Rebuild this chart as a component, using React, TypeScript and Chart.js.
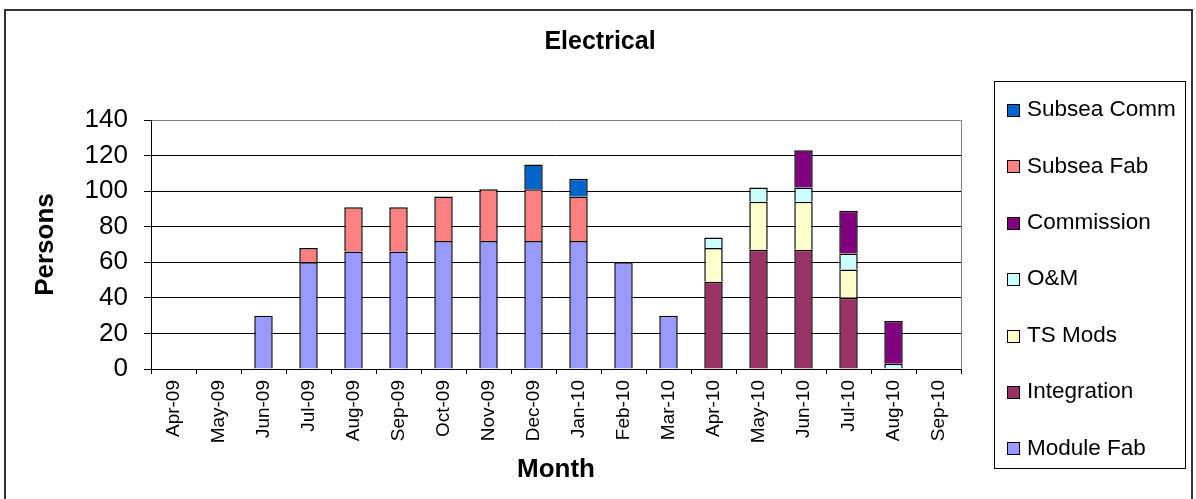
import { useEffect, useRef } from "react";
import { Chart, registerables } from "chart.js";

Chart.register(...registerables);

const FONT = "'Liberation Sans', Arial, Helvetica, sans-serif";

const chartTitle = "Electrical";
const xTitle = "Month";
const yTitle = "Persons";

const months = [
  "Apr-09", "May-09", "Jun-09", "Jul-09", "Aug-09", "Sep-09",
  "Oct-09", "Nov-09", "Dec-09", "Jan-10", "Feb-10", "Mar-10",
  "Apr-10", "May-10", "Jun-10", "Jul-10", "Aug-10", "Sep-10",
];

// Head count per month for each work package (stacked bottom to top)
const moduleFab = [0, 0, 30, 60, 66, 66, 72, 72, 72, 72, 60, 30, 0, 0, 0, 0, 0, 0];
const integration = [0, 0, 0, 0, 0, 0, 0, 0, 0, 0, 0, 0, 49, 67, 67, 40, 0, 0];
const tsMods = [0, 0, 0, 0, 0, 0, 0, 0, 0, 0, 0, 0, 19, 27, 27, 16, 0, 0];
const oAndM = [0, 0, 0, 0, 0, 0, 0, 0, 0, 0, 0, 0, 6, 8, 8, 9, 3, 0];
const commission = [0, 0, 0, 0, 0, 0, 0, 0, 0, 0, 0, 0, 0, 0, 21, 24, 24, 0];
const subseaFab = [0, 0, 0, 8, 25, 25, 25, 29, 29, 25, 0, 0, 0, 0, 0, 0, 0, 0];
const subseaComm = [0, 0, 0, 0, 0, 0, 0, 0, 14, 10, 0, 0, 0, 0, 0, 0, 0, 0];

const seriesNames = ["Module Fab", "Integration", "TS Mods", "O&M", "Commission", "Subsea Fab", "Subsea Comm"];
const seriesColors = ["#9999FF", "#993366", "#FFFFCC", "#CCFFFF", "#800080", "#FF8080", "#0066CC"];
const seriesValues = [moduleFab, integration, tsMods, oAndM, commission, subseaFab, subseaComm];

const yMax = 140;
const yStep = 20;

// Draws the title, the boxed legend on the right, the plot frame and the outer border
const decorations = {
  id: "decorations",
  afterDraw(chart: any) {
    const { ctx, chartArea } = chart;
    ctx.save();

    // plot area right edge
    ctx.strokeStyle = "#808080";
    ctx.lineWidth = 1;
    const rx = Math.round(chartArea.right) + 0.5;
    ctx.beginPath();
    ctx.moveTo(rx, Math.round(chartArea.top));
    ctx.lineTo(rx, Math.round(chartArea.bottom));
    ctx.stroke();

    // chart title
    ctx.fillStyle = "#000";
    ctx.font = `bold 25px ${FONT}`;
    ctx.textAlign = "center";
    ctx.textBaseline = "middle";
    ctx.fillText(chartTitle, 600, 42);

    // legend frame
    ctx.strokeStyle = "#000";
    ctx.lineWidth = 1;
    ctx.strokeRect(994.5, 81.5, 191, 387);

    // legend entries, top entry is the top of the stack
    const sets = chart.data.datasets.slice().reverse();
    ctx.font = `22.5px ${FONT}`;
    ctx.textAlign = "left";
    ctx.textBaseline = "middle";
    sets.forEach((ds: any, i: number) => {
      const cy = 110 + i * 56.4;
      const top = Math.round(cy - 6) + 0.5;
      ctx.fillStyle = ds.backgroundColor;
      ctx.fillRect(1007.5, top, 12, 12);
      ctx.strokeStyle = "#000";
      ctx.strokeRect(1007.5, top, 12, 12);
      ctx.fillStyle = "#000";
      ctx.fillText(ds.label, 1027, cy);
    });

    // outer border
    ctx.strokeStyle = "#333";
    ctx.lineWidth = 2;
    ctx.strokeRect(5, 10, 1187, 500);

    ctx.restore();
  },
};

export default function App() {
  const canvasRef = useRef<HTMLCanvasElement | null>(null);

  useEffect(() => {
    const canvas = canvasRef.current;
    if (!canvas) return;

    const chart = new Chart(canvas, {
      type: "bar",
      data: {
        labels: months,
        datasets: seriesNames.map((name, i) => ({
          label: name,
          data: seriesValues[i],
          backgroundColor: seriesColors[i],
          borderColor: "#000",
          borderWidth: 1.5,
          barPercentage: 0.41,
          categoryPercentage: 1,
        })),
      },
      options: {
        responsive: false,
        animation: false,
        devicePixelRatio: 1,
        layout: { padding: { left: 0, top: 120, right: 235, bottom: 0 } },
        plugins: {
          legend: { display: false },
          title: { display: false },
          tooltip: { enabled: false },
        },
        scales: {
          x: {
            stacked: true,
            afterFit: (scale: any) => {
              scale.height = 130;
            },
            border: { color: "#000", width: 1 },
            grid: {
              display: true,
              drawOnChartArea: false,
              drawTicks: true,
              tickLength: 5,
              color: "#000",
              offset: true,
            },
            ticks: {
              autoSkip: false,
              minRotation: 90,
              maxRotation: 90,
              padding: 6,
              color: "#000",
              font: { family: FONT, size: 19 },
            },
            title: {
              display: true,
              text: xTitle,
              color: "#000",
              font: { family: FONT, size: 26, weight: "bold" },
              padding: { top: 0, bottom: 14 },
            },
          },
          y: {
            stacked: true,
            min: 0,
            max: yMax,
            afterFit: (scale: any) => {
              scale.width = 151;
            },
            border: { color: "#000", width: 1 },
            grid: {
              color: (c: any) => (c.tick && c.tick.value === yMax ? "#808080" : "#000"),
              tickColor: "#000",
              tickLength: 7,
              drawTicks: true,
            },
            ticks: {
              stepSize: yStep,
              padding: 16,
              color: "#000",
              font: { family: FONT, size: 26 },
            },
            title: {
              display: true,
              text: yTitle,
              color: "#000",
              font: { family: FONT, size: 26, weight: "bold" },
              padding: { top: 30, bottom: 0 },
            },
          },
        },
      },
      plugins: [decorations],
    });

    return () => chart.destroy();
  }, []);

  return (
    <div style={{ position: "fixed", left: 0, top: 0, width: 1196, height: 499, background: "#fff" }}>
      <canvas ref={canvasRef} width={1196} height={499} style={{ display: "block" }} />
    </div>
  );
}
